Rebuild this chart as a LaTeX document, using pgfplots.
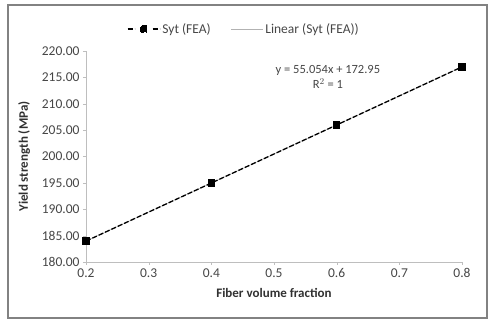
\documentclass[border=0pt]{standalone}
\usepackage{fontspec}
\setmainfont{Carlito}
\usepackage{pgfplots}
\pgfplotsset{compat=1.18}
\definecolor{axisgray}{RGB}{190,190,190}
\definecolor{txtgray}{RGB}{70,70,70}
\definecolor{framegray}{RGB}{130,130,130}
\begin{document}
\begin{tikzpicture}
\useasboundingbox (-86pt,-58pt) rectangle (404pt,262pt);
\draw[framegray, line width=1.2pt] (-78pt,-56pt) rectangle (401pt,257pt);
\begin{axis}[
  at={(0,0)}, anchor=south west,
  scale only axis, width=376pt, height=211pt,
  xmin=0.2, xmax=0.8, ymin=180, ymax=220,
  xtick={0.2,0.3,...,0.8}, ytick={180,185,...,220},
  axis lines=left, axis line style={axisgray, -},
  tick style={axisgray}, tick align=outside, major tick length=3pt,
  ticklabel style={font=\fontsize{13.5}{15}\selectfont, text=txtgray},
  /pgf/number format/assume math mode=true,
  yticklabel style={/pgf/number format/.cd, fixed, fixed zerofill, precision=2},
  xticklabel style={/pgf/number format/.cd, fixed, precision=1},
  xlabel={\textbf{Fiber volume fraction}},
  ylabel={\textbf{Yield strength (MPa)}},
  label style={font=\fontsize{13}{15}\selectfont, text=txtgray!70!black},
  xlabel style={yshift=-4pt},
  ylabel style={yshift=5pt},
  legend style={at={(0.42,1.0)}, anchor=south, yshift=12pt, draw=none, fill=none,
    font=\fontsize{13.5}{15}\selectfont, text=txtgray, legend columns=2,
    /tikz/every even column/.append style={column sep=18pt}},
  legend cell align=left,
  clip=false,
]
\addplot[gray!60, line width=0.6pt, forget plot] coordinates {(0.2,183.96) (0.8,216.99)};
\addplot[black, line width=1.3pt, dash pattern=on 5pt off 2pt, mark=square*, mark size=3pt, mark options={solid},
  legend image code/.code={
    \draw[black, line width=1.3pt] (0pt,0pt) -- (7pt,0pt);
    \draw[black, line width=1.3pt] (25pt,0pt) -- (32pt,0pt);
    \fill[black] (13pt,-3pt) rectangle (19pt,3pt);}]
  coordinates {(0.2,183.96) (0.4,194.97) (0.6,205.98) (0.8,216.99)};
\addlegendentry{Syt (FEA)}
\addlegendimage{legend image code/.code={\draw[gray!60, line width=0.6pt] (0pt,0pt) -- (32pt,0pt);}}
\addlegendentry{Linear (Syt (FEA))}
\node[font=\fontsize{12.5}{15}\selectfont, text=txtgray, align=center] at (axis cs:0.586,215.0) {y = 55.054x + 172.95\\R$^2$ = 1};
\end{axis}
\end{tikzpicture}
\end{document}
